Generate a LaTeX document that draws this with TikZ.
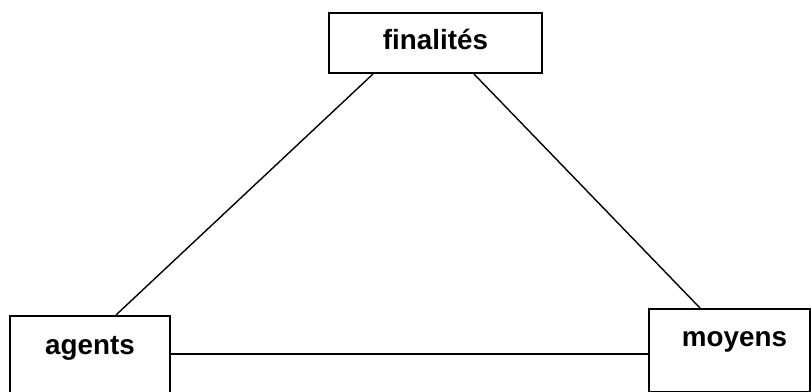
\documentclass[tikz,border=0pt]{standalone}
\usepackage{fontspec}
\setmainfont{Liberation Sans}

\begin{document}
\begin{tikzpicture}[x=0.5pt,y=-0.5pt,
    box/.style={draw,line width=1pt,anchor=north west,inner sep=0pt,font=\fontsize{13.9}{16}\selectfont\bfseries},
    link/.style={line width=0.7pt}]
    \useasboundingbox (0,0) rectangle (811,392);
    % Boxes ====================================================
    \node[box,minimum width=106.5pt,text height=18pt,text depth=12pt]   (fin)    at (328,12)  {finalités};
    \node[box,minimum width=80pt,text height=19pt,text depth=25pt]      (agents) at (9,315)   {agents};
    \node[box,minimum width=80.5pt,text height=18.5pt,text depth=23pt]  (moyens) at (648,308) {\hspace*{5pt}moyens};
    % Links ====================================================
    \draw[link] ([xshift=22.5pt]fin.south west) -- ([xshift=53.5pt]agents.north west);
    \draw[link] ([xshift=-34.5pt]fin.south east) -- ([xshift=26pt]moyens.north west);
    \draw[link] ([yshift=-19.5pt]agents.north east) -- ([yshift=-23pt]moyens.north west);
\end{tikzpicture}
\end{document}
